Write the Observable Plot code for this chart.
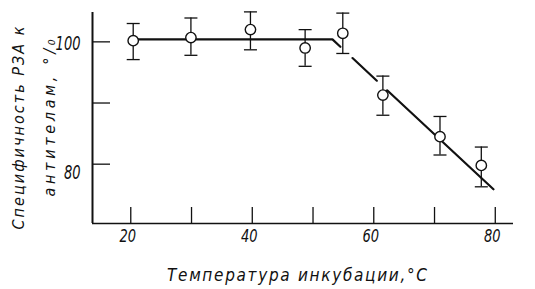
<!DOCTYPE html>
<html>
<head>
<meta charset="utf-8">
<script src="https://cdn.jsdelivr.net/npm/d3@7"></script>
<script src="https://cdn.jsdelivr.net/npm/@observablehq/plot@0.6"></script>
<style>
  html, body { margin: 0; padding: 0; background: #fff; }
  #chart svg { display: block; }
</style>
</head>
<body>
<div id="chart"></div>
<script>
// ---- data ----
const temps   = [20.4, 29.9, 39.7, 48.7, 54.9, 61.5, 70.9, 77.7];
const values  = [100.2, 100.7, 102.0, 99.0, 101.4, 91.3, 84.5, 79.8];
const errHigh = [103.0, 103.9, 104.9, 102.0, 104.7, 94.4, 87.8, 82.8];
const errLow  = [97.1, 97.8, 98.7, 96.0, 98.1, 88.0, 81.5, 76.3];

// fitted line (with the small breaks seen in the print)
const fitT = [20.4, 53.2, 54.5, NaN, 56.5, 60.5, NaN, 62.2, 79.7];
const fitV = [100.4, 100.4, 99.2, NaN, 97.35, 93.65, NaN, 92.08, 75.9];

const xTicks = [20, 30, 40, 50, 60, 70, 80];
const xTickLabels = [20, 40, 60, 80];
const yTicks = [80, 90, 100];

const xLabel = "Температура инкубации,°С";
const yLabel1 = "Специфичность РЗА к";
const yLabel2 = "антителам, °/₀";

const xDomain = [13.7, 83];
const yDomain = [70.3, 104.8];

const pts = temps.map((t, i) => ({t, v: values[i], hi: errHigh[i], lo: errLow[i]}));
const fit = fitT.map((t, i) => ({t, v: fitV[i]}));

const font = "'DejaVu Sans Condensed', 'DejaVu Sans', sans-serif";

// horizontal bar symbol for error-bar caps
const capSymbol = {
  draw(context, size) {
    const r = Math.sqrt(size / Math.PI);
    context.moveTo(-r, 0);
    context.lineTo(r, 0);
  }
};

const chart = Plot.plot({
  width: 535,
  height: 289,
  marginLeft: 92,
  marginRight: 22,
  marginTop: 12,
  marginBottom: 66,
  style: {fontFamily: font, fontStyle: "italic", fontStretch: "condensed", color: "#111", background: "#fff"},
  x: {domain: xDomain},
  y: {domain: yDomain},
  marks: [
    // axis lines
    Plot.ruleX([xDomain[0]], {stroke: "#111", strokeWidth: 2}),
    Plot.ruleY([yDomain[0]], {stroke: "#111", strokeWidth: 1.5}),
    // inward ticks
    Plot.axisX({ticks: xTicks, tickSize: -16, text: null, label: null, stroke: "#111", strokeWidth: 1.3}),
    Plot.axisY({ticks: yTicks, tickSize: -18, text: null, label: null, stroke: "#111", strokeWidth: 1.3}),
    // tick labels
    Plot.axisX({ticks: xTickLabels, tickSize: 0, tickPadding: 6, dx: -3, fontSize: 17, label: null, color: "#111", className: "xlab"}),
    Plot.axisY({ticks: [100], tickSize: 0, tickPadding: 12, dy: 2, fontSize: 20, label: null, color: "#111", className: "ylab"}),
    Plot.axisY({ticks: [80], tickSize: 0, tickPadding: 12, dy: 8, fontSize: 20, label: null, color: "#111", className: "ylab"}),
    // fitted line
    Plot.line(fit, {x: "t", y: "v", stroke: "#111", strokeWidth: 2.2}),
    // error bars
    Plot.ruleX(pts, {x: "t", y1: "lo", y2: "hi", stroke: "#111", strokeWidth: 1.3}),
    Plot.dot(pts, {x: "t", y: "hi", symbol: capSymbol, r: 6.5, stroke: "#111", strokeWidth: 1.3}),
    Plot.dot(pts, {x: "t", y: "lo", symbol: capSymbol, r: 6.5, stroke: "#111", strokeWidth: 1.3}),
    // points
    Plot.dot(pts, {x: "t", y: "v", r: 5.2, fill: "#fff", stroke: "#111", strokeWidth: 1.4}),
    // titles
    Plot.text([xLabel], {frameAnchor: "bottom", textAnchor: "middle", dx: -6, dy: 57, fontSize: 17}),
    Plot.text([yLabel1], {frameAnchor: "left", textAnchor: "middle", dx: -74, dy: 10, rotate: -90, fontSize: 16}),
    Plot.text([yLabel2], {frameAnchor: "left", textAnchor: "middle", dx: -43, dy: 0, rotate: -90, fontSize: 16})
  ]
});

// stretch the spaced-out titles to the lengths seen in the print
const lengths = new Map([[xLabel, 260], [yLabel1, 203], [yLabel2, 157]]);
d3.select(chart).selectAll("text").each(function () {
  const len = lengths.get(this.textContent);
  if (len) d3.select(this).attr("textLength", len).attr("lengthAdjust", "spacing");
});
// narrow the tick-label digits like the print's condensed face
d3.select(chart).selectAll(".xlab text, .ylab text").each(function () {
  const n = this.textContent.length;
  d3.select(this).attr("textLength", n * 8.3).attr("lengthAdjust", "spacingAndGlyphs");
});

document.getElementById("chart").appendChild(chart);
</script>
</body>
</html>
